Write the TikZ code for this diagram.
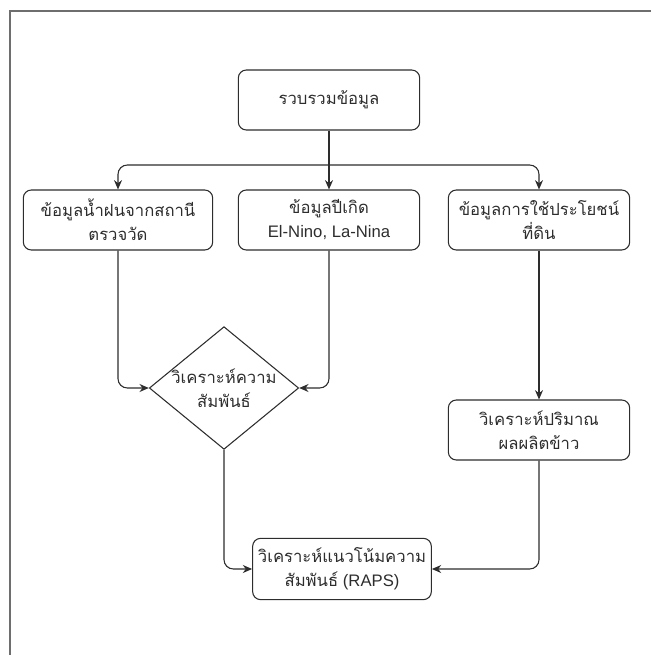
\documentclass[tikz,border=0pt]{standalone}
\usepackage{fontspec}
\setmainfont{Liberation Sans}
\newfontfamily\thaifont[Script=Thai]{Loma}
\usepackage{tikz}
\usetikzlibrary{shapes.geometric,arrows.meta}
\definecolor{myline}{RGB}{45,45,45}
\definecolor{myframe}{RGB}{110,110,110}

\begin{document}
\begin{tikzpicture}[x=0.75pt, y=-0.75pt, line width=0.8pt,
    box/.style={draw=myline, rounded corners=6pt, minimum width=136pt, minimum height=45pt,
      align=center, text=myline, font=\fontsize{12.5}{18}\selectfont},
    dia/.style={draw=myline, diamond, aspect=1.22, inner sep=-2pt, minimum width=112pt,
      minimum height=92pt, align=center, text=myline, font=\fontsize{12.5}{18}\selectfont},
    arr/.style={draw=myline, rounded corners=7pt, -{Stealth[length=7pt,width=6pt]}}]
    \useasboundingbox (0,0) rectangle (651,655);
    \draw[myframe, line width=1.1pt] (651,11) -- (10,11) -- (10,655);

    \node[box] (A) at (329,100) {\thaifont รวบรวมข้อมูล};
    \node[box, minimum width=142pt] (B) at (118,220) {\thaifont ข้อมูลน้ำฝนจากสถานี\\\thaifont ตรวจวัด};
    \node[box] (C) at (329,220) {\thaifont ข้อมูลปีเกิด\\El-Nino, La-Nina};
    \node[box] (D) at (539,220) {\thaifont ข้อมูลการใช้ประโยชน์\\\thaifont ที่ดิน};
    \node[dia] (E) at (224,388) {\thaifont วิเคราะห์ความ\\\thaifont สัมพันธ์};
    \node[box] (F) at (539,430) {\thaifont วิเคราะห์ปริมาณ\\\thaifont ผลผลิตข้าว};
    \node[box, minimum width=134pt, minimum height=46pt] (G) at (342,569)
      {\thaifont วิเคราะห์แนวโน้มความ\\{\thaifont สัมพันธ์} (RAPS)};
    \coordinate (S) at (329,165);

    \draw[arr] (A) -- (C);
    \draw[arr] (S) -| (B);
    \draw[arr] (S) -| (D);
    \draw[arr] (B) |- (E);
    \draw[arr] (C) |- (E);
    \draw[arr] (D) -- (F);
    \draw[arr] (E) |- (G);
    \draw[arr] (F) |- (G);
  \end{tikzpicture}
\end{document}
